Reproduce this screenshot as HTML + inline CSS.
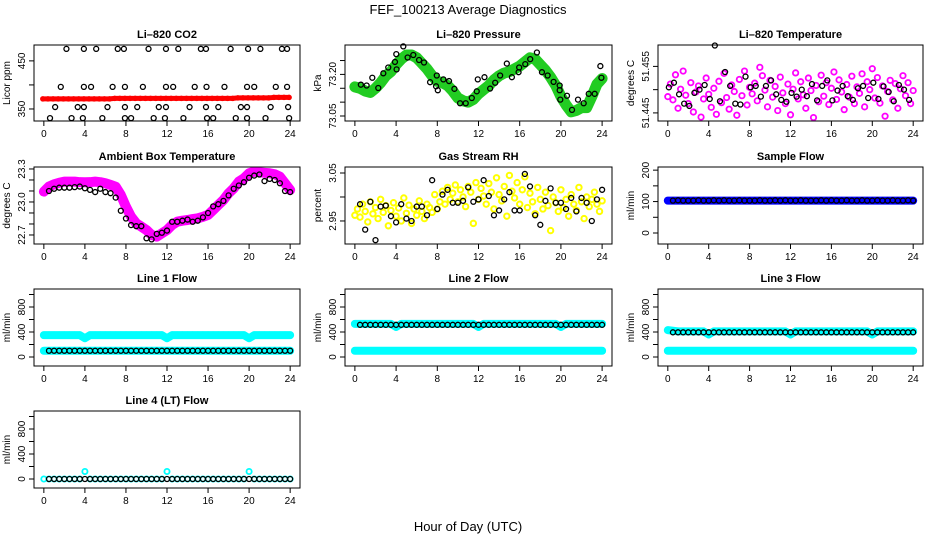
<!DOCTYPE html>
<html><head><meta charset="utf-8"><style>
html,body{margin:0;padding:0;background:#fff}
svg{display:block;font-family:"Liberation Sans",sans-serif}
</style></head><body>
<svg id="chart" width="936" height="540" viewBox="0 0 936 540" xmlns="http://www.w3.org/2000/svg">
<text x="468" y="14" text-anchor="middle" font-size="13">FEF_100213  Average Diagnostics</text>
<text x="468" y="531" text-anchor="middle" font-size="13">Hour of Day (UTC)</text>
</svg>
<script>
// ---- data ----
const xTicks = [0,4,8,12,16,20,24];
const co2Red = [371,371,371,371,371,371,371,371,371,371,371,371,371,371,372,372,372,372,372,372,372,372,372,372,372,372,372,372,372,372,372,372,372,372,372,372,372,372,373,373,373,373,373,373,373,374,374,374,374];
const co2BlackX = [2.2,3.9,5.1,7.2,7.8,10.2,11.9,13.1,15.3,15.8,18.2,19.9,21.1,23.2,23.7,1.65,3.9,4.6,6.7,7.9,9.65,11.9,12.6,14.7,15.85,17.6,19.8,20.5,22.6,23.7,1.1,3.3,3.9,6.2,7.9,9.1,11.2,11.9,14.2,15.8,17.0,19.2,19.8,22.1,23.8,0.6,2.7,3.8,5.7,7.9,8.5,10.7,11.8,13.6,15.9,16.5,18.7,19.8,21.6,23.9];
const co2BlackY = [475,475,475,475,475,475,475,475,475,475,475,475,475,475,475,396,396,396,396,396,396,396,396,396,396,396,396,396,396,396,354,354,354,354,354,354,354,354,354,354,354,354,354,354,354,331,331,331,331,331,331,331,331,331,331,331,331,331,331,331];
const presGreen = [73.155,73.15,73.14,73.135,73.15,73.17,73.195,73.21,73.235,73.255,73.27,73.27,73.26,73.24,73.22,73.195,73.175,73.17,73.16,73.14,73.115,73.105,73.10,73.11,73.13,73.145,73.16,73.18,73.195,73.205,73.21,73.22,73.23,73.245,73.26,73.255,73.235,73.215,73.19,73.16,73.12,73.09,73.065,73.07,73.08,73.08,73.12,73.165,73.185];
const presBlackX = [0.58,1.14,1.69,2.27,2.76,3.24,3.89,4.02,4.05,4.7,5.12,5.67,6.23,6.71,7.3,7.88,7.95,8.05,8.59,9.14,9.66,10.21,10.76,11.35,11.83,11.93,12.58,13.13,13.62,14.1,14.75,15.24,15.89,15.95,16.54,17.02,17.67,18.16,18.71,19.29,19.88,19.88,19.94,20.59,21.08,21.66,22.21,22.7,23.28,23.83,23.93];
const presBlackY = [73.163,73.160,73.188,73.151,73.204,73.225,73.245,73.273,73.218,73.301,73.261,73.270,73.252,73.243,73.172,73.157,73.196,73.143,73.182,73.176,73.148,73.096,73.096,73.115,73.139,73.182,73.190,73.149,73.170,73.196,73.239,73.190,73.208,73.225,73.237,73.255,73.279,73.208,73.196,73.173,73.160,73.143,73.109,73.123,73.072,73.109,73.096,73.130,73.130,73.230,73.188];
const ltMag = [51.4485,51.4512,51.4478,51.4532,51.4460,51.4501,51.4540,51.4488,51.4470,51.4515,51.4452,51.4495,51.4508,51.4441,51.4480,51.4525,51.4490,51.4462,51.4503,51.4447,51.4518,51.4472,51.4535,51.4483,51.4458,51.4510,51.4496,51.4445,51.4522,51.4487,51.4540,51.4467,51.4505,51.4491,51.4514,51.4476,51.4548,51.4530,51.4499,51.4463,51.4520,51.4484,51.4507,51.4455,51.4527,51.4493,51.4470,51.4512,51.4446,51.4501,51.4536,51.4480,51.4517,51.4489,51.4460,51.4525,51.4498,51.4440,51.4509,51.4474,51.4531,51.4486,51.4515,51.4468,51.4503,51.4538,51.4479,51.4521,51.4495,51.4457,51.4511,51.4484,51.4529,51.4470,51.4506,51.4492,51.4534,51.4463,51.4517,51.4500,51.4545,51.4482,51.4526,51.4471,51.4508,51.4443,51.4496,51.4520,51.4478,51.4513,51.4460,51.4502,51.4530,51.4487,51.4515,51.4470,51.4498];
const ltBlack = [51.4505,51.4515,51.4490,51.4470,51.4465,51.4493,51.4500,51.4510,51.4480,51.4595,51.4475,51.4538,51.4508,51.4470,51.4468,51.4528,51.4505,51.4508,51.4485,51.4508,51.4520,51.4490,51.4478,51.4474,51.4493,51.4485,51.4500,51.4486,51.4512,51.4477,51.4508,51.4520,51.4477,51.4498,51.4508,51.4486,51.4478,51.4503,51.4508,51.4482,51.4515,51.4480,51.4507,51.4495,51.4475,51.4510,51.4500,51.4478];
const ambMag = [23.094,23.14,23.161,23.175,23.185,23.185,23.185,23.18,23.179,23.18,23.185,23.18,23.17,23.155,23.139,23.064,22.957,22.866,22.806,22.776,22.745,22.70,22.685,22.715,22.745,22.791,22.821,22.83,22.836,22.845,22.852,22.865,22.882,22.927,22.973,23.018,23.079,23.124,23.185,23.215,23.261,23.276,23.27,23.265,23.261,23.252,23.23,23.17,23.109];
const ambBlack = [23.10,23.12,23.13,23.13,23.13,23.135,23.14,23.125,23.11,23.09,23.12,23.09,23.08,23.04,22.92,22.85,22.79,22.78,22.78,22.67,22.66,22.71,22.72,22.74,22.82,22.82,22.83,22.84,22.82,22.83,22.86,22.90,22.96,22.98,23.01,23.06,23.12,23.15,23.18,23.22,23.24,23.25,23.19,23.21,23.20,23.17,23.10,23.09];
const rhYel = [2.962,2.975,2.958,2.985,2.970,2.948,2.990,2.965,2.978,2.955,2.995,2.968,2.982,2.940,2.972,2.988,2.960,2.977,2.950,2.998,2.966,2.983,2.945,2.975,2.962,2.992,2.970,2.955,2.985,2.978,2.968,3.005,2.975,2.990,3.012,2.985,3.020,2.995,3.008,3.025,2.990,3.015,3.000,2.980,3.022,3.010,2.945,3.030,2.995,3.018,3.002,2.985,3.028,3.010,2.975,3.040,3.005,2.992,3.022,2.960,3.045,3.012,2.998,3.030,2.985,3.015,3.042,2.978,3.008,2.990,2.965,3.020,2.995,2.975,3.010,2.982,2.930,3.000,2.988,2.970,3.015,2.978,2.995,2.960,3.005,2.985,2.972,3.020,2.990,2.955,3.000,2.980,2.995,3.010,2.985,2.970,2.992];
const rhBlack = [2.985,2.932,2.990,2.910,2.980,2.982,2.960,2.947,2.985,2.955,2.950,2.980,2.980,2.962,3.035,2.975,3.005,3.015,2.988,2.988,2.992,3.020,2.990,2.995,3.035,3.002,2.962,2.972,2.995,3.010,2.972,2.972,3.048,3.022,2.962,2.942,2.992,3.018,2.988,2.988,2.975,2.998,2.970,2.998,2.988,2.950,2.995,3.015];
const sampBlue = [103,103,103,103,103,103,103,103,103,103,103,103,103,103,103,103,103,103,103,103,103,103,103,103,103,103,103,103,103,103,103,103,103,103,103,103,103,103,103,103,103,103,103,103,103,103,103,103,103];
const sampBlack = [103,104,103,103,103,104,103,103,104,103,104,103,103,104,103,103,103,104,103,103,104,103,104,103,103,104,103,103,103,104,103,104,103,103,104,103,103,104,103,103,104,103,103,104,103,103,104,103];
const l1Hi = [350,350,350,350,350,350,350,350,300,350,350,350,350,350,350,350,350,350,350,350,350,350,350,350,300,350,350,350,350,350,350,350,350,350,350,350,350,350,350,350,300,350,350,350,350,350,350,350,350];
const l1Lo = [100,100,100,100,100,100,100,100,100,100,100,100,100,100,100,100,100,100,100,100,100,100,100,100,100,100,100,100,100,100,100,100,100,100,100,100,100,100,100,100,100,100,100,100,100,100,100,100,100];
const l1Black = [100,100,100,100,100,100,100,100,100,100,100,100,100,100,100,100,100,100,100,100,100,100,100,100,100,100,100,100,100,100,100,100,100,100,100,100,100,100,100,100,100,100,100,100,100,100,100,100];
const l2Hi = [530,530,530,530,530,530,530,530,480,530,530,530,530,530,530,530,530,530,530,530,530,530,530,530,480,530,530,530,530,530,530,530,530,530,530,530,530,530,530,530,480,530,530,530,530,530,530,530,530];
const l2Black = [515,515,515,515,515,515,515,515,515,515,515,515,515,515,515,515,515,515,515,515,515,515,515,515,515,515,515,515,515,515,515,515,515,515,515,515,515,515,515,515,515,515,515,515,515,515,515,515];
const l3Hi = [430,420,410,410,410,410,410,410,360,410,410,410,410,410,410,410,410,410,410,410,410,410,410,410,360,410,410,410,410,410,410,410,410,410,410,410,410,410,410,410,360,410,410,410,410,410,410,410,410];
const l3Black = [395,395,395,395,395,395,395,395,395,395,395,395,395,395,395,395,395,395,395,395,395,395,395,395,395,395,395,395,395,395,395,395,395,395,395,395,395,395,395,395,395,395,395,395,395,395,395,395];
const l4Cyan = [0,0,0,0,0,0,0,0,120,0,0,0,0,0,0,0,0,0,0,0,0,0,0,0,120,0,0,0,0,0,0,0,0,0,0,0,0,0,0,0,120,0,0,0,0,0,0,0,0];
const l4Black = [0,0,0,0,0,0,0,0,0,0,0,0,0,0,0,0,0,0,0,0,0,0,0,0,0,0,0,0,0,0,0,0,0,0,0,0,0,0,0,0,0,0,0,0,0,0,0,0];

// ---- drawing ----
const NS = 'http://www.w3.org/2000/svg';
const svg = document.getElementById('chart');
const cols = [[34,300],[345,612],[658,923]];
const rows = [[45,121],[167,244],[289,366],[411,488]];
function mk(tag, attrs, parent){const e=document.createElementNS(NS,tag);for(const k in attrs)e.setAttribute(k,attrs[k]);(parent||svg).appendChild(e);return e;}
function panel(name, title, ylabel, c, r, ylim, ticks, labels, series){
  const [x0,x1]=cols[c],[y0,y1]=rows[r];
  const g=mk('g',{});
  
  
  const xs=v=>x0+(v+0.96)/25.92*(x1-x0);
  const ys=v=>y1-(v-ylim[0])/(ylim[1]-ylim[0])*(y1-y0);
  const t=mk('text',{x:(x0+x1)/2,y:y0-7,'text-anchor':'middle','font-size':11,'font-weight':'bold'},g);t.textContent=title;
  
  
  const yl=mk('text',{x:0,y:0,'text-anchor':'middle','font-size':10,transform:`translate(${x0-24},${(y0+y1)/2}) rotate(-90)`},g);yl.textContent=ylabel;
  
  
  series.forEach(s=>{
    const sg=mk('g',{fill:'none',stroke:s.color,'stroke-width':s.w},g);
    
    
    const pts = s.y.map((v,i)=>[xs(s.x ? s.x[i] : s.start + i*s.step), ys(v)]);
    if(s.band){
      const pl=mk('polyline',{points:pts.map(p=>p.join(',')).join(' '),'stroke-width':s.band,'stroke-linejoin':'round','stroke-linecap':'round',fill:'none'},sg);
      
      
    }
    pts.forEach(p=>{
      const cEl=mk('circle',{cx:p[0],cy:p[1],r:s.r},sg);
      
      
    });
  });
  const box=mk('rect',{x:x0,y:y0,width:x1-x0,height:y1-y0,fill:'none',stroke:'#000','stroke-width':1},g);
  
  
  const ax=mk('g',{stroke:'#000','stroke-width':1},g);
  
  
  mk('line',{x1:xs(0),x2:xs(24),y1:y1,y2:y1},ax);
  xTicks.forEach(v=>{
    mk('line',{x1:xs(v),x2:xs(v),y1:y1,y2:y1+5},ax);
    const tl=mk('text',{x:xs(v),y:y1+16,'text-anchor':'middle','font-size':10,stroke:'none'},ax);tl.textContent=v;
    
    
  });
  mk('line',{x1:x0,x2:x0,y1:ys(ticks[0]),y2:ys(ticks[ticks.length-1])},ax);
  ticks.forEach((v,i)=>{
    mk('line',{x1:x0,x2:x0-5,y1:ys(v),y2:ys(v)},ax);
    if(labels[i]){
      const tl=mk('text',{x:0,y:0,'text-anchor':'middle','font-size':10,stroke:'none',transform:`translate(${x0-9},${ys(v)}) rotate(-90)`},ax);tl.textContent=labels[i];
      
      
    }
  });
}
const flowTicks=[0,200,400,600,800,1000], flowLabels=['0','','400','','800',''];
const flowLim=[-144,1088];
panel('co2','Li\u2013820 CO2','Licor ppm',0,0,[325,483],[350,400,450],['350','','450'],[
  {id:'red',y:co2Red,start:-0.1,step:0.5,color:'#ff0000',w:1.5,r:2,band:5},
  {id:'black',y:co2BlackY,x:co2BlackX,color:'#000',w:1.3,r:2.5}]);
panel('pressure','Li\u2013820 Pressure','kPa',1,0,[73.032,73.306],[73.05,73.10,73.15,73.20,73.25],['73.05','','','73.20',''],[
  {id:'green',y:presGreen,start:0,step:0.5,color:'#22cc22',w:1.5,r:3,band:11},
  {id:'black',y:presBlackY,x:presBlackX,color:'#000',w:1.3,r:2.5}]);
panel('li-temp','Li\u2013820 Temperature','degrees C',2,0,[51.44326,51.4596],[51.445,51.450,51.455],['51.445','','51.455'],[
  {id:'magenta',y:ltMag,start:0,step:0.25,color:'#ff00ff',w:1.8,r:2.7},
  {id:'black',y:ltBlack,start:0.1,step:0.5,color:'#000',w:1.3,r:2.5}]);
panel('ambient-temp','Ambient Box Temperature','degrees C',0,1,[22.618,23.318],[22.7,22.8,22.9,23.0,23.1,23.2,23.3],['22.7','','','23.0','','','23.3'],[
  {id:'magenta',y:ambMag,start:0,step:0.5,color:'#ff00ff',w:1.5,r:3,band:10},
  {id:'black',y:ambBlack,start:0.5,step:0.5,color:'#000',w:1.3,r:2.5}]);
panel('rh','Gas Stream RH','percent',1,1,[2.902,3.0625],[2.95,3.00,3.05],['2.95','','3.05'],[
  {id:'yellow',y:rhYel,start:0,step:0.25,color:'#ffff00',w:2,r:2.7},
  {id:'black',y:rhBlack,start:0.5,step:0.5,color:'#000',w:1.3,r:2.5}]);
panel('sample-flow','Sample Flow','ml/min',2,1,[-35,210],[0,50,100,150,200],['0','','100','','200'],[
  {id:'blue',y:sampBlue,start:0,step:0.5,color:'#0000ff',w:1.5,r:3,band:8},
  {id:'black',y:sampBlack,start:0.5,step:0.5,color:'#000',w:1.3,r:2.5}]);
panel('line1-flow','Line 1 Flow','ml/min',0,2,flowLim,flowTicks,flowLabels,[
  {id:'cyan-high',y:l1Hi,start:0,step:0.5,color:'#00ffff',w:1.5,r:3,band:8},
  {id:'cyan-low',y:l1Lo,start:0,step:0.5,color:'#00ffff',w:1.5,r:3,band:8},
  {id:'black',y:l1Black,start:0.5,step:0.5,color:'#000',w:1.3,r:2.5}]);
panel('line2-flow','Line 2 Flow','ml/min',1,2,flowLim,flowTicks,flowLabels,[
  {id:'cyan-high',y:l2Hi,start:0,step:0.5,color:'#00ffff',w:1.5,r:3,band:8},
  {id:'cyan-low',y:l1Lo,start:0,step:0.5,color:'#00ffff',w:1.5,r:3,band:8},
  {id:'black',y:l2Black,start:0.5,step:0.5,color:'#000',w:1.3,r:2.5}]);
panel('line3-flow','Line 3 Flow','ml/min',2,2,flowLim,flowTicks,flowLabels,[
  {id:'cyan-high',y:l3Hi,start:0,step:0.5,color:'#00ffff',w:1.5,r:3,band:8},
  {id:'cyan-low',y:l1Lo,start:0,step:0.5,color:'#00ffff',w:1.5,r:3,band:8},
  {id:'black',y:l3Black,start:0.5,step:0.5,color:'#000',w:1.3,r:2.5}]);
panel('line4-flow','Line 4 (LT) Flow','ml/min',0,3,flowLim,flowTicks,flowLabels,[
  {id:'cyan',y:l4Cyan,start:0,step:0.5,color:'#00ffff',w:1.8,r:2.6},
  {id:'black',y:l4Black,start:0.5,step:0.5,color:'#000',w:1.3,r:2.5}]);
</script>
</body></html>
